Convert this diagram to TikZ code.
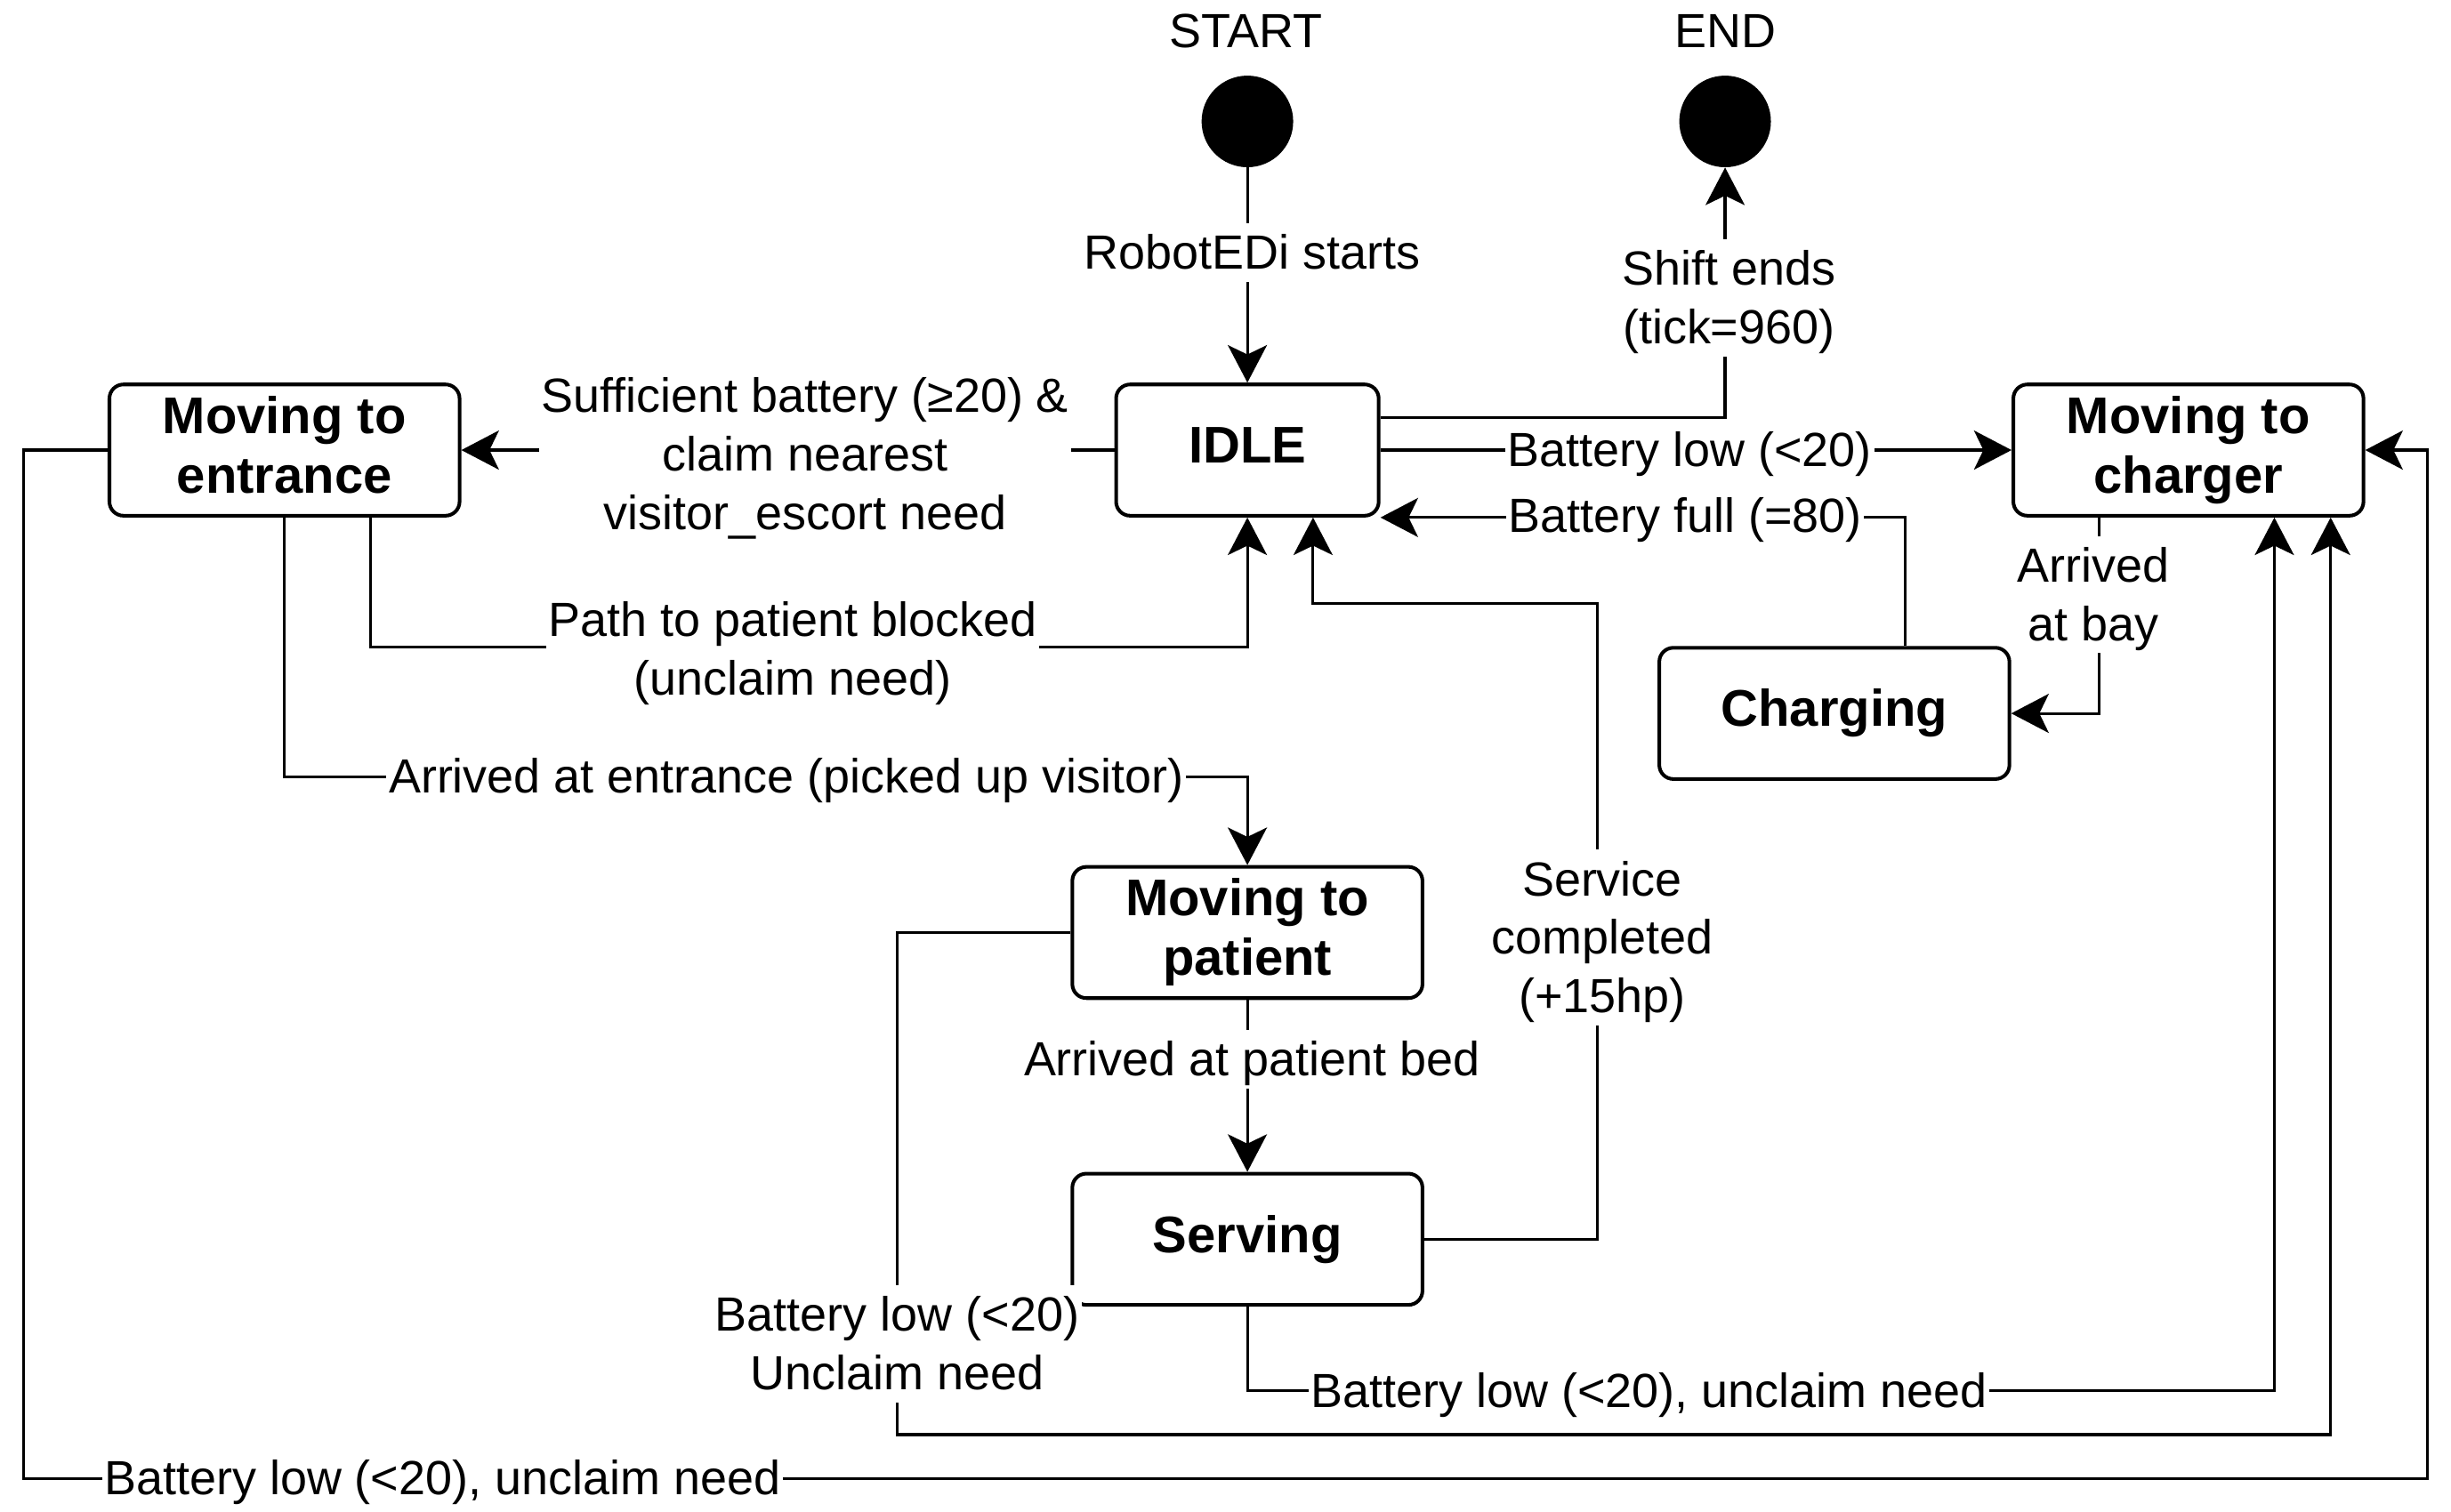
\documentclass[tikz,border=0pt]{standalone}
\usepackage{fontspec}
\setmainfont{Liberation Sans}
\usetikzlibrary{arrows.meta}

% line struts: each text line occupies its full line box
\newcommand\lbstrut{\rule[-8.1pt]{0pt}{37.5pt}}
\newcommand\ststrut{\rule[-10.6pt]{0pt}{38pt}}

\begin{document}
\begin{tikzpicture}[x=1pt,y=-1pt,
  statebox/.style={draw, line width=2.3pt, rounded corners=9pt, fill=white,
    minimum width=224pt, minimum height=84pt, align=center, inner sep=0pt,
    font=\fontsize{33}{38}\selectfont\bfseries},
  dot/.style={circle, fill=black, draw=none, minimum size=58.6pt, inner sep=0pt},
  conn/.style={line width=1.8pt, -{Stealth[length=24pt,width=25pt,inset=6pt]}},
  lbl/.style={fill=white, align=center, inner xsep=1.5pt, inner ysep=0pt,
    font=\fontsize{30.7}{37.5}\selectfont},
  ttl/.style={font=\fontsize{30.7}{37.5}\selectfont, inner sep=0pt}]

\useasboundingbox (0,0) rectangle (1568,967.5);

% pseudo states
\node[dot] (start) at (798,77.7) {};
\node[dot] (end) at (1103.6,77.7) {};
\node[ttl] (startlbl) at (797,20) {START};
\node[ttl] (endlbl) at (1104,20) {END};

% states
\node[statebox, minimum width=168pt] (idle) at (798,288) {\ststrut IDLE};
\node[statebox] (mte) at (182,288) {\ststrut Moving to\\\ststrut entrance};
\node[statebox] (mtc) at (1400,288) {\ststrut Moving to\\\ststrut charger};
\node[statebox] (chg) at (1173.5,456.5) {\ststrut Charging};
\node[statebox] (mtp) at (798,596.7) {\ststrut Moving to\\\ststrut patient};
\node[statebox] (srv) at (798,793) {\ststrut Serving};

% transitions
\draw[conn] (start) -- (idle);
\draw[conn] (idle.east |- 0,267) -| (end.south);
\draw[conn] (idle.east) -- (mtc.west);
\draw[conn] (chg.north -| 1219,0) |- (idle.south east);
\draw[conn] (mtc.south -| 1343,0) |- (chg.east);
\draw[conn] (idle.west) -- (mte.east);
\draw[conn] (mte.south -| 237,0) |- (798,414) -- (idle.south);
\draw[conn] (mte.south) |- (798,497) -- (mtp.north);
\draw[conn] (mtp) -- (srv);
\draw[conn] (srv.east) -| (1022,386) -| (idle.south -| 840,0);
\draw[conn] (srv.south) |- (1455,890) -- (mtc.south -| 1455,0);
\draw[conn] (mtp.west) -| (574,918) -| (mtc.south -| 1491,0);
\draw[conn] (mte.west) -| (15,946) -| (1553,288) -- (mtc.east);

% transition labels
\node[lbl] (l1) at (801,161.5) {\lbstrut RobotEDi starts};
\node[lbl] (l2) at (1106,190.5) {\lbstrut Shift ends\\\lbstrut (tick=960)};
\node[lbl] (l3) at (1081,288) {\lbstrut Battery low (<20)};
\node[lbl] (l4) at (1078,330) {\lbstrut Battery full (=80)};
\node[lbl] (l5) at (1339,380.5) {\lbstrut Arrived\\\lbstrut at bay};
\node[lbl] (l6) at (515,290.5) {\lbstrut Sufficient battery (≥20) \&\\\lbstrut claim nearest\\\lbstrut visitor\_escort need};
\node[lbl] (l7) at (507,415.5) {\lbstrut Path to patient blocked\\\lbstrut (unclaim need)};
\node[lbl] (l8) at (503,497) {\lbstrut Arrived at entrance (picked up visitor)};
\node[lbl] (l9) at (801,678) {\lbstrut Arrived at patient bed};
\node[lbl] (l10) at (1025,600) {\lbstrut Service\\\lbstrut completed\\\lbstrut (+15hp)};
\node[lbl] (l11) at (1055,890) {\lbstrut Battery low (<20), unclaim need};
\node[lbl] (l12) at (574,860) {\lbstrut Battery low (<20)\\\lbstrut Unclaim need};
\node[lbl] (l13) at (283,946) {\lbstrut Battery low (<20), unclaim need};

\end{tikzpicture}
\end{document}
